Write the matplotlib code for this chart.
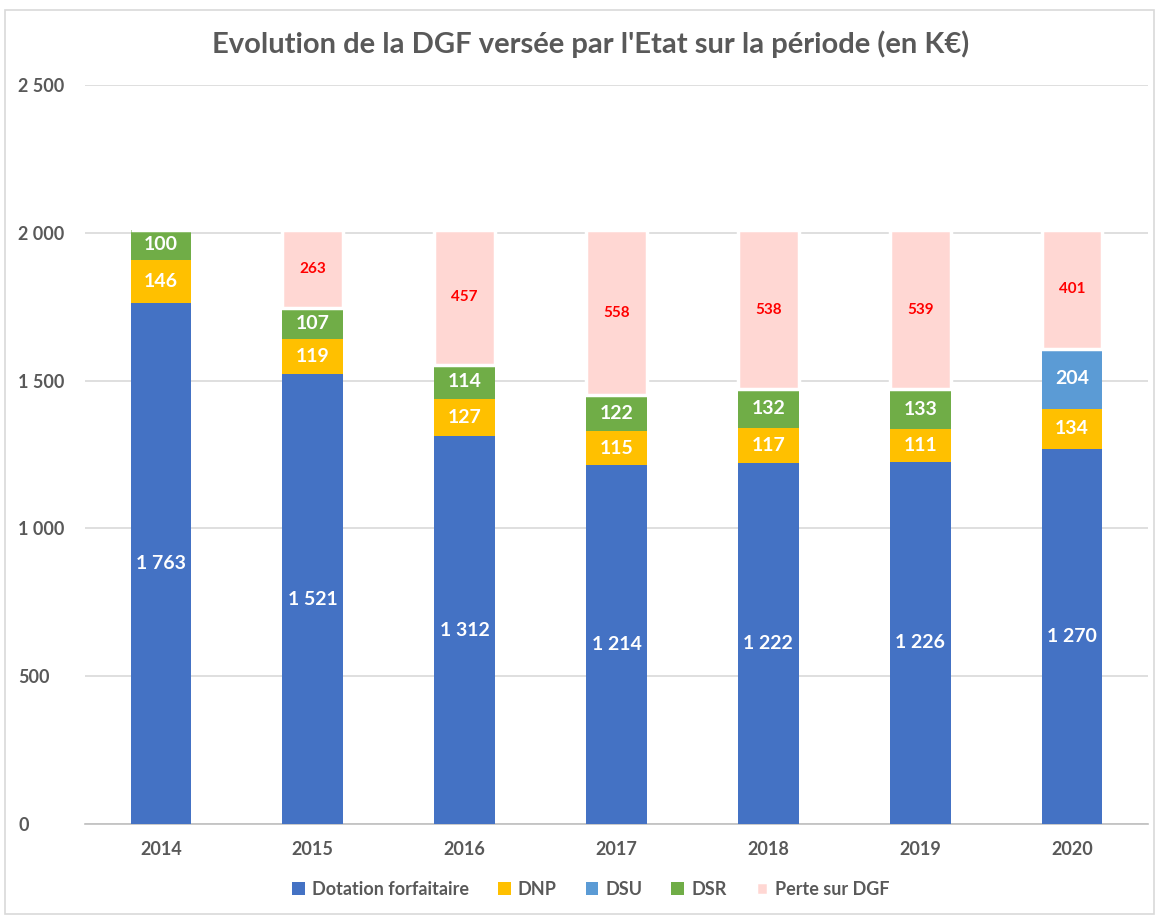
import matplotlib.pyplot as plt
import numpy as np
from matplotlib.patches import Rectangle

plt.rcParams['font.family'] = ['Lato', 'DejaVu Sans']

years = ['2014', '2015', '2016', '2017', '2018', '2019', '2020']
dotation = [1763, 1521, 1312, 1214, 1222, 1226, 1270]
dnp = [146, 119, 127, 115, 117, 111, 134]
dsu = [0, 0, 0, 0, 0, 0, 204]
dsr = [100, 107, 114, 122, 132, 133, 0]
perte = [0, 263, 457, 558, 538, 539, 401]

series = [
    ('Dotation forfaitaire', dotation, '#4472C4'),
    ('DNP', dnp, '#FFC000'),
    ('DSU', dsu, '#5B9BD5'),
    ('DSR', dsr, '#70AD47'),
    ('Perte sur DGF', perte, '#FFD7D3'),
]

def fmt(v):
    return '{:,}'.format(int(v)).replace(',', ' ')

fig = plt.figure(figsize=(11.59, 9.18), dpi=100)
ax = fig.add_axes([0.0733, 0.1024, 0.9172, 0.805])
fig.patches.append(Rectangle((0.004, 0.004), 0.992, 0.985, transform=fig.transFigure,
                             fill=False, edgecolor='#d9d9d9', linewidth=1.2))

x = np.arange(len(years))
width = 0.4
bottom = np.zeros(len(years))
for name, vals, col in series:
    vals = np.array(vals, dtype=float)
    is_perte = name == 'Perte sur DGF'
    ax.bar(x, vals, width, bottom=bottom, color=col, label=name,
           edgecolor='white' if is_perte else 'none',
           linewidth=2.5 if is_perte else 0, zorder=3)
    for xi, v, b in zip(x, vals, bottom):
        if v <= 0:
            continue
        if is_perte:
            ax.text(xi, b + v / 2, fmt(v), ha='center', va='center', color='#FF0000',
                    fontsize=11, fontweight='bold', zorder=4)
        else:
            ax.text(xi, b + v / 2, fmt(v), ha='center', va='center', color='white',
                    fontsize=14, fontweight='bold', zorder=4)
    bottom += vals

ax.set_xlim(-0.5, len(years) - 0.5)
ax.set_ylim(0, 2500)
yt = np.arange(0, 2501, 500)
ax.set_yticks(yt)
ax.set_yticklabels([fmt(v) for v in yt])
ax.set_xticks(x)
ax.set_xticklabels(years)
ax.grid(axis='y', color='#d9d9d9', linewidth=1.2, zorder=0)
ax.set_axisbelow(True)
for s in ['top', 'right', 'left']:
    ax.spines[s].set_visible(False)
ax.spines['bottom'].set_color('#bfbfbf')
ax.spines['bottom'].set_linewidth(1.2)
ax.tick_params(axis='x', length=0, labelsize=13, labelcolor='#595959', pad=12)
ax.tick_params(axis='y', length=0, labelsize=13, labelcolor='#595959', pad=48)
for lab in ax.get_xticklabels() + ax.get_yticklabels():
    lab.set_fontweight('bold')
for lab in ax.get_yticklabels():
    lab.set_horizontalalignment('left')

fig.text(0.51, 0.952, "Evolution de la DGF versée par l'Etat sur la période (en K€)",
         ha='center', va='center', fontsize=21, fontweight='bold', color='#595959')

leg = fig.legend(loc='center', bbox_to_anchor=(0.51, 0.031), ncol=5, frameon=False,
                 handlelength=0.7, handleheight=0.7, handletextpad=0.4, columnspacing=1.6,
                 prop={'size': 13, 'weight': 'bold'})
for t in leg.get_texts():
    t.set_color('#595959')

fig.savefig('out.png', dpi=100)
